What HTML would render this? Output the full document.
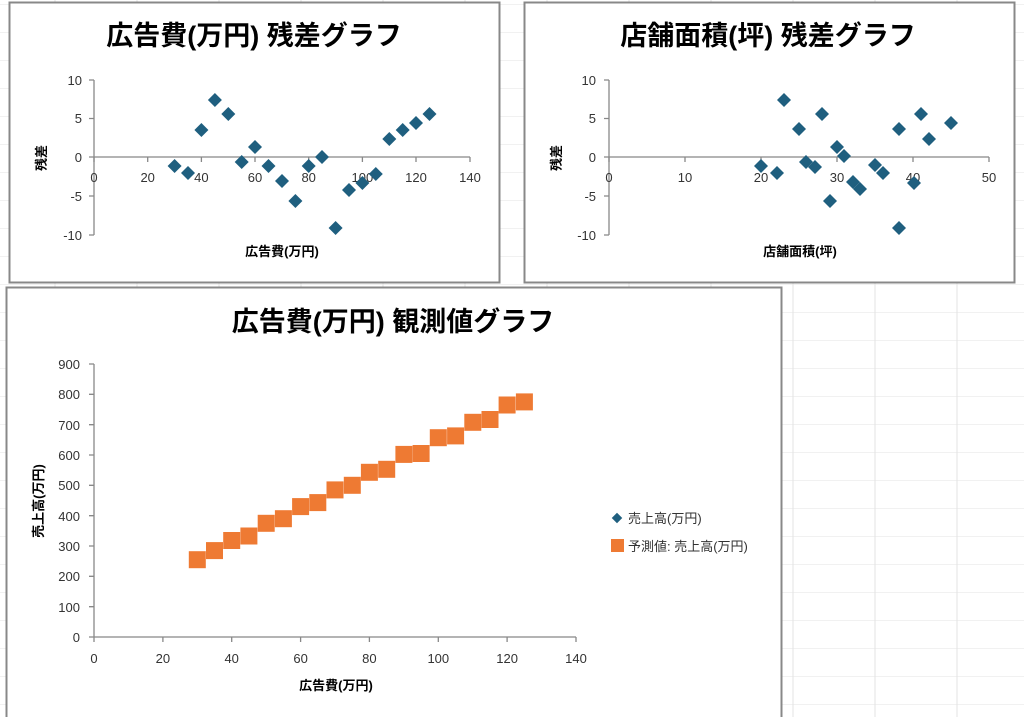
<!DOCTYPE html>
<html><head><meta charset="utf-8"><style>
html,body{margin:0;padding:0;background:#fff;}
svg{display:block;font-family:"Liberation Sans","Noto Sans CJK JP",sans-serif;}
</style></head><body>
<svg width="1024" height="717" viewBox="0 0 1024 717" xmlns="http://www.w3.org/2000/svg">
<defs>
<pattern id="g" x="54" y="4" width="82" height="28" patternUnits="userSpaceOnUse">
<path d="M0 0H82M1 0V28" stroke="#e3e3e3" stroke-width="1" fill="none"/>
</pattern>
<path id="d" d="M0,-7 L7,0 L0,7 L-7,0Z" fill="#1f5f7f"/>
<rect id="s" x="-8.5" y="-8.5" width="17" height="17" fill="#ee7a33"/>
</defs>
<rect x="0" y="0" width="1024" height="717" fill="url(#g)"/>

<!-- Chart 1 -->
<rect x="9.5" y="2.5" width="490" height="280" fill="#fff" stroke="#888" stroke-width="2"/>
<text x="254" y="45" font-size="27" font-weight="bold" text-anchor="middle">広告費(万円) 残差グラフ</text>
<g stroke="#888" stroke-width="1.3" fill="none">
<path d="M94 80V235M89 80H94M89 118.5H94M89 157H94M89 196H94M89 235H94"/>
<path d="M94 157H470M94 157v5M147.7 157v5M201.4 157v5M255 157v5M308.7 157v5M362.4 157v5M416 157v5M470 157v5"/>
</g>
<g font-size="13" fill="#333">
<g text-anchor="end"><text x="82" y="85">10</text><text x="82" y="123">5</text><text x="82" y="162">0</text><text x="82" y="201">-5</text><text x="82" y="240">-10</text></g>
<g text-anchor="middle"><text x="94" y="182">0</text><text x="147.7" y="182">20</text><text x="201.4" y="182">40</text><text x="255" y="182">60</text><text x="308.7" y="182">80</text><text x="362.4" y="182">100</text><text x="416" y="182">120</text><text x="470" y="182">140</text></g>
</g>
<text x="282" y="256" font-size="13" font-weight="bold" text-anchor="middle">広告費(万円)</text>
<text transform="translate(46,158) rotate(-90)" font-size="13" font-weight="bold" text-anchor="middle">残差</text>
<g>
<use href="#d" x="174.6" y="166"/><use href="#d" x="188" y="173"/><use href="#d" x="201.4" y="130"/><use href="#d" x="214.9" y="100"/><use href="#d" x="228.3" y="114"/><use href="#d" x="241.7" y="162"/><use href="#d" x="255" y="147"/><use href="#d" x="268.5" y="166"/><use href="#d" x="282" y="181"/><use href="#d" x="295.4" y="201"/><use href="#d" x="308.7" y="166"/><use href="#d" x="322" y="157"/><use href="#d" x="335.6" y="228"/><use href="#d" x="349" y="190"/><use href="#d" x="362.4" y="183"/><use href="#d" x="375.8" y="174"/><use href="#d" x="389.3" y="139"/><use href="#d" x="402.7" y="130"/><use href="#d" x="416" y="123"/><use href="#d" x="429.5" y="114"/>
</g>

<!-- Chart 2 -->
<rect x="524.5" y="2.5" width="490" height="280" fill="#fff" stroke="#888" stroke-width="2"/>
<text x="768" y="45" font-size="27" font-weight="bold" text-anchor="middle">店舗面積(坪) 残差グラフ</text>
<g stroke="#888" stroke-width="1.3" fill="none">
<path d="M609 80V235M604 80H609M604 118.5H609M604 157H609M604 196H609M604 235H609"/>
<path d="M609 157H989M609 157v5M685 157v5M761 157v5M837 157v5M913 157v5M989 157v5"/>
</g>
<g font-size="13" fill="#333">
<g text-anchor="end"><text x="596" y="85">10</text><text x="596" y="123">5</text><text x="596" y="162">0</text><text x="596" y="201">-5</text><text x="596" y="240">-10</text></g>
<g text-anchor="middle"><text x="609" y="182">0</text><text x="685" y="182">10</text><text x="761" y="182">20</text><text x="837" y="182">30</text><text x="913" y="182">40</text><text x="989" y="182">50</text></g>
</g>
<text x="800" y="256" font-size="13" font-weight="bold" text-anchor="middle">店舗面積(坪)</text>
<text transform="translate(561,158) rotate(-90)" font-size="13" font-weight="bold" text-anchor="middle">残差</text>
<g>
<use href="#d" x="761" y="166"/><use href="#d" x="777" y="173"/><use href="#d" x="784" y="100"/><use href="#d" x="799" y="129"/><use href="#d" x="822" y="114"/><use href="#d" x="806" y="162"/><use href="#d" x="815" y="167"/><use href="#d" x="837" y="147"/><use href="#d" x="844" y="156"/><use href="#d" x="853" y="182"/><use href="#d" x="860" y="189"/><use href="#d" x="830" y="201"/><use href="#d" x="875" y="165"/><use href="#d" x="883" y="173"/><use href="#d" x="899" y="129"/><use href="#d" x="899" y="228"/><use href="#d" x="914" y="183"/><use href="#d" x="921" y="114"/><use href="#d" x="929" y="139"/><use href="#d" x="951" y="123"/>
</g>

<!-- Chart 3 -->
<rect x="6.5" y="287.5" width="775" height="432" fill="#fff" stroke="#888" stroke-width="2"/>
<text x="393" y="331" font-size="27" font-weight="bold" text-anchor="middle">広告費(万円) 観測値グラフ</text>
<g stroke="#888" stroke-width="1.3" fill="none">
<path d="M94 364V637M89 364H94M89 394.3H94M89 424.7H94M89 455H94M89 485.3H94M89 515.7H94M89 546H94M89 576.3H94M89 606.7H94M89 637H94"/>
<path d="M94 637H576M94 637v5M162.9 637v5M231.7 637v5M300.6 637v5M369.4 637v5M438.3 637v5M507.1 637v5M576 637v5"/>
</g>
<g font-size="13" fill="#333">
<g text-anchor="end"><text x="80" y="369">900</text><text x="80" y="399">800</text><text x="80" y="430">700</text><text x="80" y="460">600</text><text x="80" y="490">500</text><text x="80" y="521">400</text><text x="80" y="551">300</text><text x="80" y="581">200</text><text x="80" y="612">100</text><text x="80" y="642">0</text></g>
<g text-anchor="middle"><text x="94" y="663">0</text><text x="162.9" y="663">20</text><text x="231.7" y="663">40</text><text x="300.6" y="663">60</text><text x="369.4" y="663">80</text><text x="438.3" y="663">100</text><text x="507.1" y="663">120</text><text x="576" y="663">140</text></g>
</g>
<text x="336" y="690" font-size="13" font-weight="bold" text-anchor="middle">広告費(万円)</text>
<text transform="translate(43,501) rotate(-90)" font-size="13" font-weight="bold" text-anchor="middle">売上高(万円)</text>
<g>
<use href="#s" x="197.3" y="559.7"/><use href="#s" x="214.5" y="550.6"/><use href="#s" x="231.7" y="540.5"/><use href="#s" x="248.9" y="536"/><use href="#s" x="266.2" y="523.3"/><use href="#s" x="283.4" y="518.7"/><use href="#s" x="300.6" y="506.6"/><use href="#s" x="317.8" y="502.6"/><use href="#s" x="335" y="489.9"/><use href="#s" x="352.3" y="485.3"/><use href="#s" x="369.4" y="472.3"/><use href="#s" x="386.7" y="469.3"/><use href="#s" x="403.9" y="454.4"/><use href="#s" x="421.1" y="453.5"/><use href="#s" x="438.3" y="437.7"/><use href="#s" x="455.6" y="435.9"/><use href="#s" x="472.8" y="422.3"/><use href="#s" x="490" y="419.5"/><use href="#s" x="507.1" y="405"/><use href="#s" x="524.4" y="401.9"/>
</g>
<use href="#d" x="617" y="518" transform="translate(617,518) scale(0.75) translate(-617,-518)"/>
<rect x="611" y="539" width="13" height="13" fill="#ee7a33"/>
<text x="628" y="523" font-size="13" fill="#333">売上高(万円)</text>
<text x="628" y="551" font-size="13" fill="#333">予測値: 売上高(万円)</text>
</svg>
</body></html>
